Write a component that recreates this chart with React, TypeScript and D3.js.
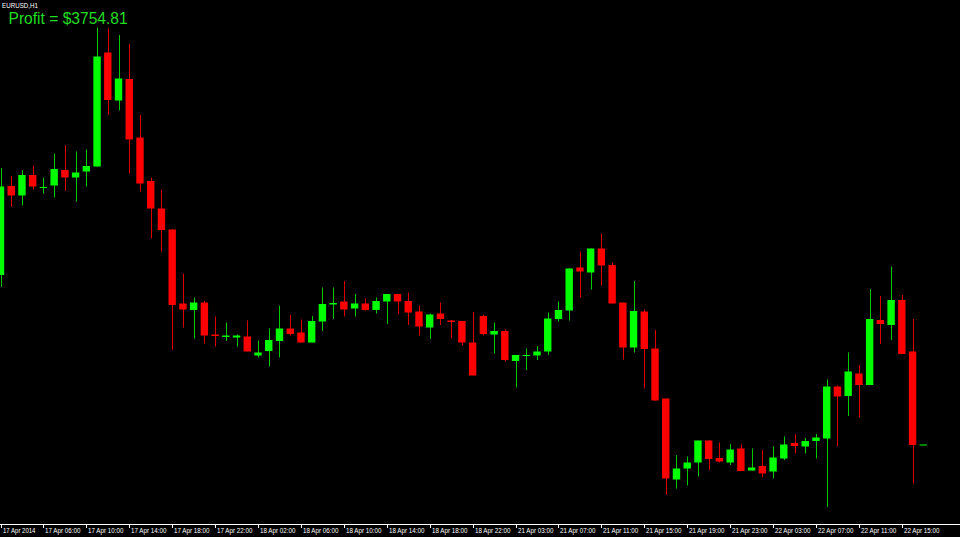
import React from 'react';
import * as d3 from 'd3';

const WIDTH = 960;
const HEIGHT = 537;

const symbolLabel = 'EURUSD,H1';
const profitLabel = 'Profit = $3754.81';

const opens = [
  1.38004, 1.38182, 1.38163, 1.38204, 1.38179, 1.38183, 1.38214, 1.38199, 1.38211, 1.38221,
  1.38449, 1.38353, 1.38396, 1.38279, 1.38192, 1.38137, 1.38095, 1.37947, 1.37934, 1.37949,
  1.37885, 1.37880, 1.37879, 1.37881, 1.37843, 1.37852, 1.37872, 1.37897, 1.37889, 1.37869,
  1.37911, 1.37945, 1.37951, 1.37937, 1.37947, 1.37934, 1.37951, 1.37966, 1.37952, 1.37931,
  1.37899, 1.37927, 1.37913, 1.37912, 1.37869, 1.37922, 1.37885, 1.37892, 1.37832, 1.37842,
  1.37843, 1.37851, 1.37916, 1.37933, 1.38019, 1.38009, 1.38057, 1.38024, 1.37949, 1.37859,
  1.37931, 1.37857, 1.37757, 1.37595, 1.37617, 1.37629, 1.37673, 1.37638, 1.37629, 1.37657,
  1.37613, 1.37622, 1.37611, 1.37637, 1.37668, 1.37661, 1.37672, 1.37677, 1.37781, 1.37762,
  1.37807, 1.37784, 1.37914, 1.37904, 1.37954, 1.37851, 1.37665,
];

const highs = [
  1.38218, 1.38202, 1.38214, 1.38223, 1.38199, 1.38247, 1.38264, 1.38251, 1.38255, 1.38499,
  1.38497, 1.38484, 1.38466, 1.38324, 1.38199, 1.38175, 1.38096, 1.38007, 1.37959, 1.37952,
  1.37921, 1.37909, 1.37885, 1.37913, 1.37873, 1.37897, 1.37943, 1.37924, 1.37915, 1.37922,
  1.37979, 1.37979, 1.37992, 1.37966, 1.37957, 1.37959, 1.37966, 1.37966, 1.37969, 1.37943,
  1.37927, 1.37949, 1.37914, 1.37912, 1.37930, 1.37924, 1.37909, 1.37895, 1.37844, 1.37857,
  1.37862, 1.37929, 1.37951, 1.38018, 1.38051, 1.38057, 1.38087, 1.38029, 1.37949, 1.37992,
  1.37935, 1.37894, 1.37757, 1.37644, 1.37641, 1.37673, 1.37673, 1.37669, 1.37666, 1.37665,
  1.37657, 1.37654, 1.37661, 1.37681, 1.37686, 1.37678, 1.37686, 1.37795, 1.37783, 1.37849,
  1.37824, 1.37976, 1.37962, 1.38021, 1.37964, 1.37916, 1.37665,
];

const lows = [
  1.37980, 1.38140, 1.38143, 1.38175, 1.38167, 1.38159, 1.38172, 1.38151, 1.38181, 1.38221,
  1.38324, 1.38333, 1.38207, 1.38171, 1.38077, 1.38051, 1.37854, 1.37899, 1.37877, 1.37867,
  1.37861, 1.37872, 1.37861, 1.37851, 1.37839, 1.37821, 1.37839, 1.37883, 1.37869, 1.37869,
  1.37892, 1.37916, 1.37921, 1.37921, 1.37933, 1.37927, 1.37906, 1.37925, 1.37904, 1.37883,
  1.37876, 1.37904, 1.37877, 1.37863, 1.37803, 1.37883, 1.37847, 1.37831, 1.37779, 1.37814,
  1.37834, 1.37844, 1.37911, 1.37913, 1.37959, 1.37975, 1.37983, 1.37947, 1.37835, 1.37849,
  1.37777, 1.37753, 1.37564, 1.37577, 1.37583, 1.37601, 1.37614, 1.37629, 1.37624, 1.37612,
  1.37613, 1.37599, 1.37597, 1.37634, 1.37647, 1.37647, 1.37637, 1.37540, 1.37661, 1.37722,
  1.37719, 1.37784, 1.37866, 1.37874, 1.37846, 1.37587, 1.37665,
];

const closes = [
  1.38181, 1.38163, 1.38204, 1.38181, 1.38180, 1.38216, 1.38199, 1.38209, 1.38222, 1.38441,
  1.38354, 1.38397, 1.38275, 1.38187, 1.38137, 1.38094, 1.37944, 1.37935, 1.37949, 1.37883,
  1.37882, 1.37883, 1.37883, 1.37851, 1.37849, 1.37874, 1.37897, 1.37886, 1.37869, 1.37912,
  1.37946, 1.37948, 1.37935, 1.37947, 1.37934, 1.37952, 1.37966, 1.37951, 1.37929, 1.37901,
  1.37925, 1.37916, 1.37910, 1.37869, 1.37803, 1.37886, 1.37892, 1.37834, 1.37844, 1.37844,
  1.37851, 1.37917, 1.37934, 1.38017, 1.38011, 1.38057, 1.38023, 1.37947, 1.37859, 1.37932,
  1.37856, 1.37753, 1.37597, 1.37617, 1.37629, 1.37673, 1.37636, 1.37631, 1.37655, 1.37612,
  1.37619, 1.37607, 1.37639, 1.37665, 1.37662, 1.37672, 1.37679, 1.37781, 1.37761, 1.37811,
  1.37784, 1.37916, 1.37906, 1.37954, 1.37846, 1.37664, 1.37665,
];

const tickIndices = [0, 4, 8, 12, 16, 20, 24, 28, 32, 36, 40, 44, 48, 52, 56, 60, 64, 68, 72, 76, 80, 84];
const tickLabels = [
  '17 Apr 2014', '17 Apr 06:00', '17 Apr 10:00', '17 Apr 14:00', '17 Apr 18:00', '17 Apr 22:00',
  '18 Apr 02:00', '18 Apr 06:00', '18 Apr 10:00', '18 Apr 14:00', '18 Apr 18:00', '18 Apr 22:00',
  '21 Apr 03:00', '21 Apr 07:00', '21 Apr 11:00', '21 Apr 15:00', '21 Apr 19:00', '21 Apr 23:00',
  '22 Apr 03:00', '22 Apr 07:00', '22 Apr 11:00', '22 Apr 15:00',
];

const UP = '#00ff00';
const DOWN = '#ff0000';
const UP_WICK = '#00c800';
const DOWN_WICK = '#d80000';

export default function App() {
  React.useEffect(() => {
    document.body.style.margin = '0';
    document.body.style.background = '#000';
  }, []);

  const n = opens.length;
  const x = d3.scaleLinear().domain([0, n - 1]).range([0.5, 0.5 + 10.73 * (n - 1)]);
  const y = d3.scaleLinear().domain([1.3748, 1.38554]).range([HEIGHT, 0]);
  const bodyW = 7.4;
  const axisY = 524.5;

  const candles = d3.range(n).map((i) => {
    const o = opens[i], h = highs[i], l = lows[i], c = closes[i];
    const up = c >= o;
    const color = up ? UP : DOWN;
    const cx = x(i);
    const top = y(Math.max(o, c));
    const bot = y(Math.min(o, c));
    const wx = Math.round(cx) + 0.5;
    return (
      <g key={i}>
        <line x1={wx} x2={wx} y1={y(h)} y2={y(l)} stroke={up ? UP_WICK : DOWN_WICK} strokeWidth={1} />
        <rect x={cx - bodyW / 2} y={top} width={bodyW} height={Math.max(1, bot - top)} fill={color} />
      </g>
    );
  });

  return (
    <svg
      width={WIDTH}
      height={HEIGHT}
      style={{ position: 'absolute', left: 0, top: 0, background: '#000', display: 'block' }}
    >
      <rect x={0} y={0} width={WIDTH} height={HEIGHT} fill="#000" />
      <g>{candles}</g>
      <text x={2} y={7.5} fill="#ffffff" fontFamily="'Liberation Sans', Arial, sans-serif" fontSize={8}
        textLength={36} lengthAdjust="spacingAndGlyphs">{symbolLabel}</text>
      <text x={8.5} y={24} fill="#22dd22" fontFamily="'Liberation Sans', Arial, sans-serif" fontSize={15.6}>
        {profitLabel}
      </text>
      <line x1={0} x2={WIDTH} y1={axisY} y2={axisY} stroke="#ffffff" strokeWidth={1} />
      {tickIndices.map((ti, k) => {
        const tx = Math.round(x(ti)) + 0.5;
        return (
          <g key={ti}>
            <line x1={tx} x2={tx} y1={axisY} y2={axisY + 3.5} stroke="#ffffff" strokeWidth={1} />
            <text x={tx + 1.5} y={533} fill="#ffffff" fontFamily="'Liberation Sans', Arial, sans-serif"
              fontSize={6.4} textLength={tickLabels[k].length * 2.95} lengthAdjust="spacingAndGlyphs">
              {tickLabels[k]}
            </text>
          </g>
        );
      })}
    </svg>
  );
}
